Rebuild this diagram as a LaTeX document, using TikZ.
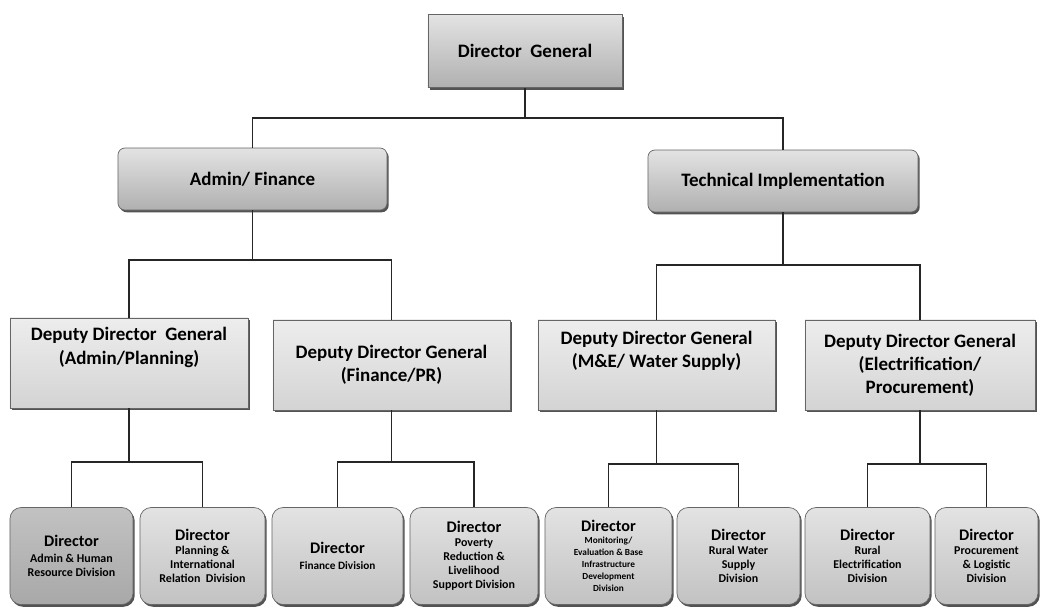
\documentclass[tikz,border=0pt]{standalone}
\usepackage{fontspec}
\setmainfont{Carlito}
\usepackage{tikz}
\usetikzlibrary{shadows}

\newcommand{\dirtitle}{{\fontsize{11.5}{13}\selectfont Director}}

\begin{document}
\begin{tikzpicture}[x=0.025cm, y=-0.025cm]
        \tikzset{
          boxbase/.style = {draw = black!60, line width = 0.5pt, align = center,
                            font = \bfseries, text = black,
                            drop shadow = {shadow xshift = 1.2pt, shadow yshift = -1.6pt,
                                           fill = black!75, opacity = 0.9}},
          headbox/.style = {boxbase, top color = gray!22, bottom color = gray!62,
                            minimum height = 1.825cm, font = \bfseries\fontsize{13.5}{16}\selectfont},
          unitbox/.style = {headbox, rounded corners = 5pt, minimum height = 1.55cm},
          deputybox/.style = {boxbase, top color = gray!14, bottom color = gray!34,
                              minimum height = 2.25cm, font = \bfseries\fontsize{13.5}{16.5}\selectfont},
          dirbox/.style = {boxbase, rounded corners = 8pt, top color = gray!22, bottom color = gray!48,
                           minimum height = 2.425cm, inner sep = 1pt,
                           font = \bfseries\fontsize{8.5}{10}\selectfont},
          darkbox/.style = {dirbox, top color = gray!48, bottom color = gray!68},
          link/.style = {draw = black!85, line width = 1pt}
        }
        \useasboundingbox (0,0) rectangle (1040,608);
        % top levels
        \node[headbox, minimum width = 4.85cm] (dg) at (525,51) {Director~~General};
        \node[unitbox, minimum width = 6.725cm] (af) at (252.5,179) {Admin/ Finance};
        \node[unitbox, minimum width = 6.75cm] (ti) at (783,181) {Technical Implementation};
        % deputies
        \node[deputybox, minimum width = 5.95cm] (ddga) at (129,363) {Deputy Director~~General\\(Admin/Planning)\\[8pt]};
        \node[deputybox, minimum width = 5.925cm] (ddgb) at (391.5,365) {Deputy Director General\\(Finance/PR)};
        \node[deputybox, minimum width = 5.925cm] (ddgc) at (656.5,365) {Deputy Director General\\(M\&E/ Water Supply)\\[6pt]};
        \node[deputybox, minimum width = 5.75cm] (ddgd) at (920,365) {Deputy Director General\\(Electrification/\\Procurement)};
        % directors
        \node[darkbox, minimum width = 3.075cm] (dira) at (71.5,556) {\dirtitle\\[1pt]Admin \& Human\\Resource Division};
        \node[dirbox, minimum width = 3.125cm] (dirb) at (202.5,556) {\dirtitle\\Planning \&\\International\\Relation~~Division};
        \node[dirbox, minimum width = 3.275cm, font = \bfseries\fontsize{8}{10}\selectfont] (dirc) at (337.5,556) {\dirtitle\\[1pt]Finance Division};
        \node[dirbox, minimum width = 3.2cm] (dird) at (474,556) {\dirtitle\\Poverty\\Reduction \&\\Livelihood\\Support Division};
        \node[dirbox, minimum width = 3.175cm, font = \bfseries\fontsize{6.6}{8.6}\selectfont] (dire) at (608.5,556) {\dirtitle\\Monitoring/\\Evaluation \& Base\\Infrastructure\\Development\\Division};
        \node[dirbox, minimum width = 3.075cm] (dirf) at (738.5,556) {\dirtitle\\Rural Water\\Supply\\Division};
        \node[dirbox, minimum width = 3.125cm] (dirg) at (867.5,556) {\dirtitle\\Rural\\Electrification\\Division};
        \node[dirbox, minimum width = 2.575cm] (dirh) at (986.5,556) {\dirtitle\\Procurement\\\& Logistic\\Division};
        % junctions
        \coordinate (jdg) at (525,118);
        \coordinate (jaf) at (252.5,260);
        \coordinate (jti) at (783,265);
        \coordinate (jda) at (129,462);
        \coordinate (jdb) at (391.5,462);
        \coordinate (jdc) at (656.5,464);
        \coordinate (jdd) at (920,464);
        \draw[link] (dg) -- (jdg);
        \draw[link] (af.north) |- (jdg) -| (ti.north);
        \draw[link] (af) -- (jaf);
        \draw[link] (ddga.north) |- (jaf) -| (ddgb.north);
        \draw[link] (ti) -- (jti);
        \draw[link] (ddgc.north) |- (jti) -| (ddgd.north);
        \draw[link] (ddga) -- (jda);
        \draw[link] (dira.north) |- (jda) -| (dirb.north);
        \draw[link] (ddgb) -- (jdb);
        \draw[link] (dirc.north) |- (jdb) -| (dird.north);
        \draw[link] (ddgc) -- (jdc);
        \draw[link] (dire.north) |- (jdc) -| (dirf.north);
        \draw[link] (ddgd) -- (jdd);
        \draw[link] (dirg.north) |- (jdd) -| (dirh.north);
    \end{tikzpicture}
\end{document}
